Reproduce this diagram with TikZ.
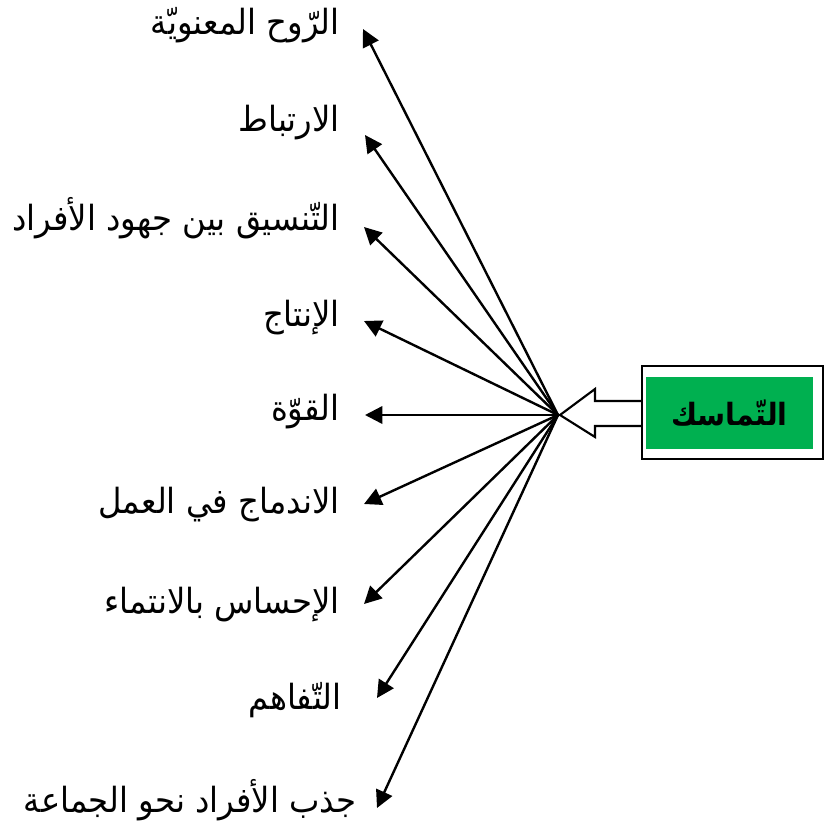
\documentclass[tikz,border=0pt]{standalone}
\usepackage{fontspec}
\usetikzlibrary{arrows.meta}
\TeXXeTstate=1
\newfontfamily\arabicfont[Script=Arabic,FakeStretch=0.93]{DejaVu Sans}
\definecolor{boxgreen}{RGB}{0,176,80}
\tikzset{
  lbl/.style={anchor=east, inner sep=0pt, font=\arabicfont\fontsize{26}{30}\selectfont},
  ray/.style={line width=1.8pt, -{Triangle[length=13pt,width=13pt]}},
}
\newcommand{\ar}[1]{\beginR #1\endR}
\begin{document}
\begin{tikzpicture}[x=0.75pt,y=-0.75pt]
\useasboundingbox (0,0) rectangle (825,829);
% central point where all rays start
\coordinate (hub) at (558,415);
% labels
\node[lbl] (l1) at (340,25)  {\ar{الرّوح المعنويّة}};
\node[lbl] (l2) at (340,123) {\ar{الارتباط}};
\node[lbl] (l3) at (340,218) {\ar{التّنسيق بين جهود الأفراد}};
\node[lbl] (l4) at (340,318) {\ar{الإنتاج}};
\node[lbl] (l5) at (340,412) {\ar{القوّة}};
\node[lbl] (l6) at (340,505) {\ar{الاندماج في العمل}};
\node[lbl] (l7) at (340,605) {\ar{الإحساس بالانتماء}};
\node[lbl] (l8) at (342,700) {\ar{التّفاهم}};
\node[lbl] (l9) at (357,800) {\ar{جذب الأفراد نحو الجماعة}};
% arrow tips next to the labels
\coordinate (t1) at (363,29);
\coordinate (t2) at (365,135);
\coordinate (t3) at (364,227);
\coordinate (t4) at (364,321);
\coordinate (t5) at (365,415);
\coordinate (t6) at (364,504);
\coordinate (t7) at (364,604);
\coordinate (t8) at (377,698);
\coordinate (t9) at (377,808);
\foreach \i in {1,...,9} \draw[ray] (hub) -- (t\i);
% framed box with the central concept
\node[draw, line width=1.6pt, fill=white, minimum width=135.75pt, minimum height=69.75pt, inner sep=0pt] (frame) at (732.5,412.5) {};
\node[fill=boxgreen, minimum width=125.25pt, minimum height=54pt, inner sep=0pt,
      font=\arabicfont\bfseries\fontsize{23}{27}\selectfont] (core) at (729.5,413) {\ar{التّماسك}};
% hollow block arrow pointing from the box to the hub
\draw[line width=1.6pt, fill=white, line join=miter]
  (frame.west |- 0,401) -- (595,401) -- (595,389) -- (hub -| 560,0) -- (595,437) -- (595,426) -- (frame.west |- 0,426);
\end{tikzpicture}
\end{document}
